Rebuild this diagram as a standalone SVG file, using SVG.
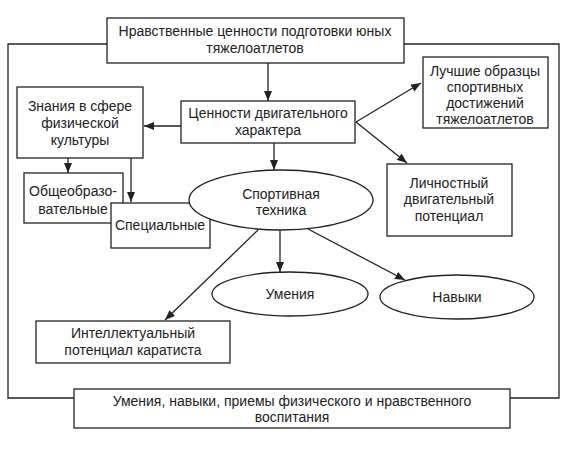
<svg xmlns="http://www.w3.org/2000/svg" width="565" height="450" viewBox="0 0 565 450">
<style>
.b{fill:#fff;stroke:#222;stroke-width:1.3}
.l{fill:none;stroke:#222;stroke-width:1.3}
text{font-family:"Liberation Sans",Arial,sans-serif;font-size:14px;fill:#222;text-anchor:middle}
</style>
<defs>
<marker id="a" viewBox="0 0 10 8" refX="10" refY="4" markerWidth="10" markerHeight="8" markerUnits="userSpaceOnUse" orient="auto">
<path d="M0,0 L10,4 L0,8 Z" fill="#222"/>
</marker>
</defs>
<rect width="565" height="450" fill="#fff"/>
<g id="frame">
<polyline class="l" points="107,44 8,44 8,398 74,398"/>
<polyline class="l" points="404,44 559,44 559,398 510,398"/>
</g>
<g id="connectors">
<line class="l" x1="268" y1="63" x2="268" y2="101" marker-end="url(#a)"/>
<line class="l" x1="181" y1="126" x2="144" y2="126" marker-end="url(#a)"/>
<line class="l" x1="356" y1="122" x2="421" y2="83" marker-end="url(#a)"/>
<line class="l" x1="356" y1="122" x2="407" y2="163" marker-end="url(#a)"/>
<line class="l" x1="274" y1="143" x2="274" y2="170" marker-end="url(#a)"/>
<line class="l" x1="68" y1="158" x2="68" y2="173" marker-end="url(#a)"/>
<line class="l" x1="131" y1="158" x2="131" y2="202" marker-end="url(#a)"/>
<line class="l" x1="280" y1="230" x2="280" y2="272" marker-end="url(#a)"/>
<line class="l" x1="308" y1="229" x2="405" y2="280" marker-end="url(#a)"/>
<line class="l" x1="258" y1="230" x2="165" y2="320" marker-end="url(#a)"/>
</g>
<g id="top">
<rect class="b" x="107" y="18" width="297" height="45"/>
<text x="255" y="36">Нравственные ценности подготовки юных</text>
<text x="255" y="53">тяжелоатлетов</text>
</g>
<g id="znaniya">
<rect class="b" x="17" y="87" width="126" height="71"/>
<text x="80" y="111">Знания в сфере</text>
<text x="80" y="128">физической</text>
<text x="80" y="145">культуры</text>
</g>
<g id="cennosti">
<rect class="b" x="181" y="101" width="174" height="42"/>
<text x="268" y="118">Ценности двигательного</text>
<text x="268" y="135">характера</text>
</g>
<g id="luchshie">
<rect class="b" x="423" y="57" width="125" height="71"/>
<text x="485" y="76">Лучшие образцы</text>
<text x="485" y="92">спортивных</text>
<text x="485" y="108">достижений</text>
<text x="485" y="124">тяжелоатлетов</text>
</g>
<g id="lichnostny">
<rect class="b" x="387" y="164" width="125" height="72"/>
<text x="449" y="188">Личностный</text>
<text x="449" y="204">двигательный</text>
<text x="449" y="221">потенциал</text>
</g>
<g id="obshcheobraz">
<rect class="b" x="24" y="173" width="99" height="50"/>
<text x="73" y="196">Общеобразо-</text>
<text x="73" y="214">вательные</text>
</g>
<g id="specialnye">
<rect class="b" x="111" y="203" width="99" height="45"/>
<text x="160" y="230">Специальные</text>
</g>
<g id="sporttehnika">
<ellipse class="b" cx="281" cy="200" rx="92" ry="30"/>
<text x="281" y="199">Спортивная</text>
<text x="281" y="215">техника</text>
</g>
<g id="umeniya">
<ellipse class="b" cx="290" cy="294" rx="78" ry="22"/>
<text x="290" y="299">Умения</text>
</g>
<g id="navyki">
<ellipse class="b" cx="457" cy="297" rx="77" ry="22"/>
<text x="457" y="302">Навыки</text>
</g>
<g id="intellekt">
<rect class="b" x="36" y="321" width="194" height="42"/>
<text x="133" y="338">Интеллектуальный</text>
<text x="133" y="355">потенциал каратиста</text>
</g>
<g id="bottom">
<rect class="b" x="74" y="389" width="436" height="39"/>
<text x="292" y="406">Умения, навыки, приемы физического и нравственного</text>
<text x="292" y="422">воспитания</text>
</g>
</svg>
